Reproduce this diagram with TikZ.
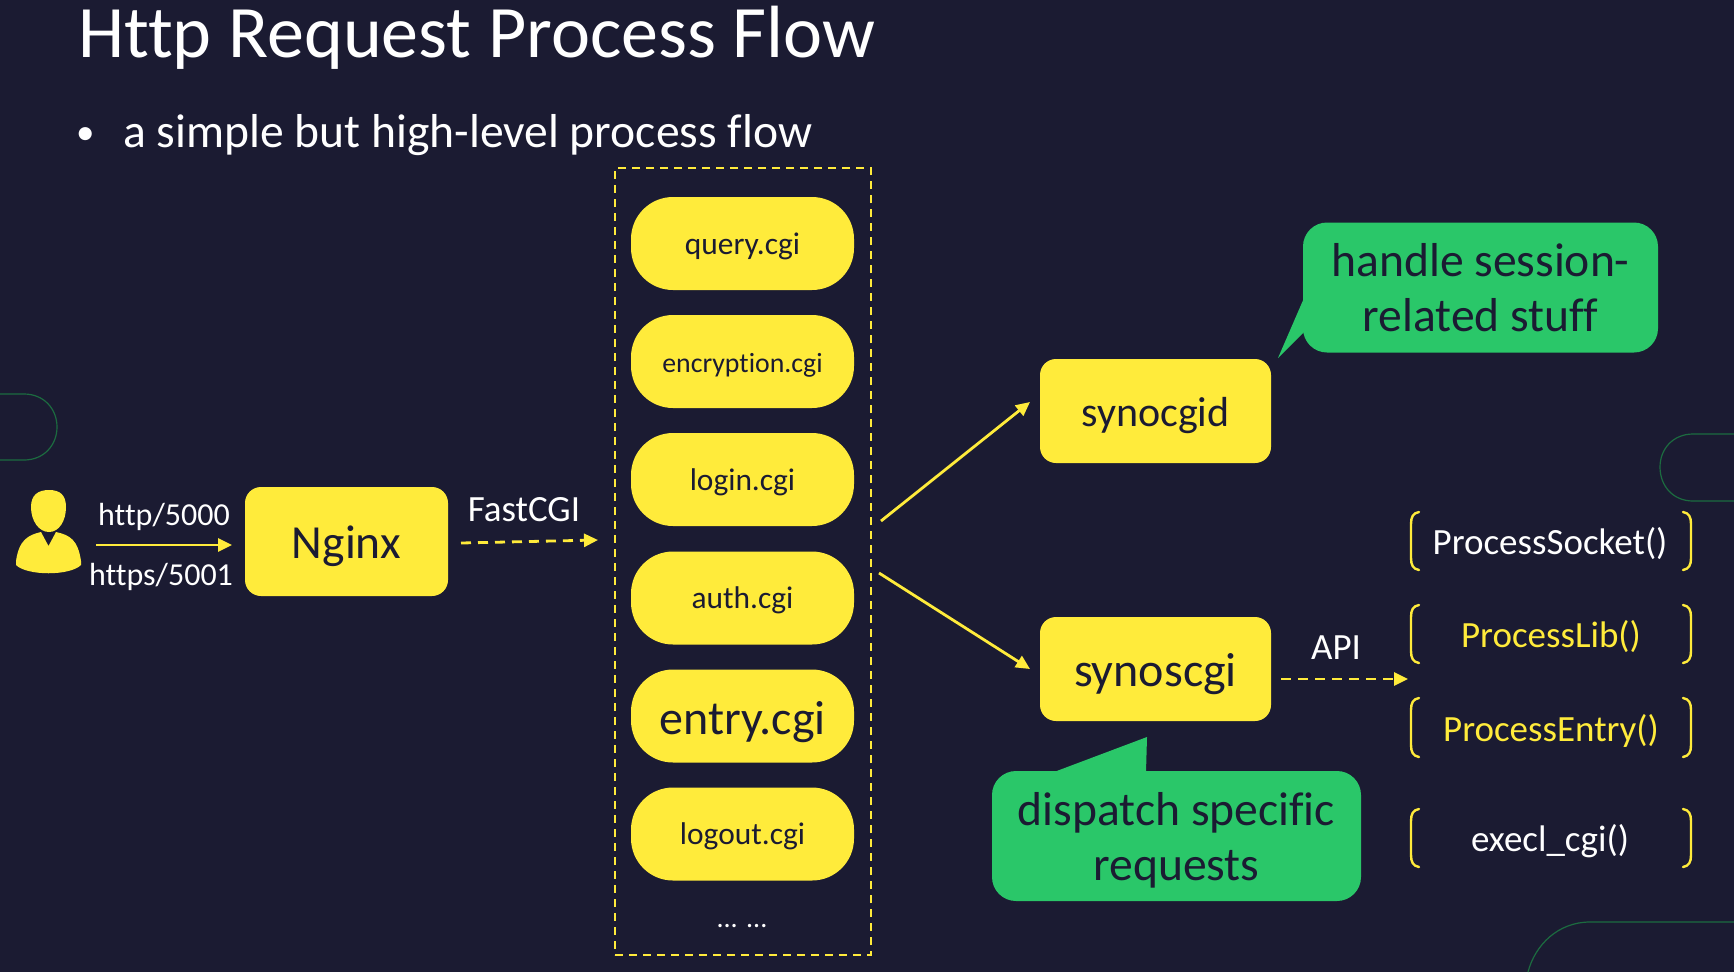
\documentclass[tikz,border=0pt]{standalone}
\usepackage{fontspec}
\setmainfont{Carlito}[Ligatures=NoCommon]
\usetikzlibrary{arrows.meta}

\definecolor{slidebg}{HTML}{1B1B32}
\definecolor{slideyellow}{HTML}{FFEB3B}
\definecolor{slidegreen}{HTML}{2AC769}
\definecolor{arcgreen}{HTML}{1C6B40}

\tikzset{
  pillbox/.style={fill=slideyellow, text=slidebg, rounded corners=42pt, minimum width=223pt, minimum height=93pt, inner sep=0pt, font=\fontsize{31.4}{38}\selectfont, text height=25pt, text depth=4pt},
  yellowbox/.style={fill=slideyellow, text=slidebg, rounded corners=16pt, inner sep=0pt, font=\fontsize{42}{50}\selectfont, text height=30pt, text depth=0pt},
  notebox/.style={fill=slidegreen, text=slidebg, rounded corners=24pt, inner sep=0pt, align=center, font=\fontsize{47.6}{55}\selectfont},
  label/.style={text=white, inner sep=0pt, font=\fontsize{32}{38}\selectfont},
  funcname/.style={inner sep=0pt, font=\fontsize{37}{44}\selectfont},
  arcline/.style={draw=arcgreen, line width=1.2pt},
  flowline/.style={draw=slideyellow, line width=2.8pt, -{Triangle[length=14pt,width=13pt]}},
  flowdash/.style={flowline, dash pattern=on 10pt off 7pt},
  bracketline/.style={draw=slideyellow, line width=2.4pt, line cap=round}
}

\begin{document}
\begin{tikzpicture}[x=1pt, y=-1pt]

\useasboundingbox (0,0) rectangle (1734,972);
\fill [slidebg] (0,0) rectangle (1734,972);

% corner decoration
\draw [arcline] (0,394) -- (24,394) .. controls (44,394) and (57,409) .. (57,427) .. controls (57,445) and (44,460) .. (24,460) -- (0,460);
\draw [arcline] (1734,434) -- (1693,434) .. controls (1673,434) and (1660,449) .. (1660,467) .. controls (1660,486) and (1673,501) .. (1693,501) -- (1734,501);
\draw [arcline] (1528,972) .. controls (1535,945) and (1558,922) .. (1590,922) -- (1734,922);

% heading
\node (title) [anchor=base west, text=white, inner sep=0pt, font=\fontsize{74}{80}\selectfont] at (78,57) {Http Request Process Flow};
\node (bullet) [anchor=base west, text=white, inner sep=0pt, font=\fontsize{37}{44}\selectfont] at (76,144) {•};
\node (subtitle) [anchor=base west, text=white, inner sep=0pt, font=\fontsize{47.6}{54}\selectfont] at (123,147) {a simple but high-level process flow};

% user icon
\fill [slideyellow] (49,490) .. controls (60,490) and (66,495) .. (66,507) .. controls (66,521) and (59,532) .. (49,532) .. controls (39,532) and (31,521) .. (31,507) .. controls (31,495) and (38,490) .. (49,490) -- cycle;
\fill [slideyellow] (41,532) -- (48.5,546) -- (56,532) .. controls (70,535) and (78,540) .. (81,561) -- (81,565) .. controls (70,576) and (27,576) .. (16,565) -- (16,561) .. controls (19,540) and (28,535) .. (41,532) -- cycle;

\node (nginx) [yellowbox, minimum width=203pt, minimum height=109pt, font=\fontsize{47.5}{54}\selectfont, text height=33pt] at (346.5,541.5) {Nginx};

\node (http) [label] at (164,517) {http/5000};
\node (https) [label] at (161,577) {https/5001};
\node (fastcgi) [label, font=\fontsize{37}{44}\selectfont] at (524,510) {FastCGI};
\node (api) [label, font=\fontsize{37}{44}\selectfont] at (1336,648) {API};

% cgi column
\node (cgicol) [draw=slideyellow, line width=2pt, dash pattern=on 8pt off 6pt, minimum width=256pt, minimum height=787pt, inner sep=0pt] at (743,561.5) {};
\node (query) [pillbox] at (742.5,243.5) {query.cgi};
\node (encryption) [pillbox, font=\fontsize{27.8}{34}\selectfont] at (742.5,361.5) {encryption.cgi};
\node (login) [pillbox] at (742.5,479.5) {login.cgi};
\node (auth) [pillbox] at (742.5,598) {auth.cgi};
\node (entry) [pillbox, font=\fontsize{48}{54}\selectfont, text height=36pt, text depth=0pt] at (742.5,716) {entry.cgi};
\node (logout) [pillbox] at (742.5,834) {logout.cgi};
\node (dots) [text=white, inner sep=0pt, font=\fontsize{28}{34}\selectfont] at (742,926) {... ...};

\node (synocgid) [yellowbox, minimum width=231pt, minimum height=104pt] at (1155.5,411) {synocgid};
\node (synoscgi) [yellowbox, minimum width=231pt, minimum height=104pt, font=\fontsize{48}{54}\selectfont, text height=34pt] at (1155.5,669) {synoscgi};

% notes
\coordinate (tipa) at (1278,358);
\coordinate (tipb) at (1147,737);
\fill [slidegreen] (tipa) -- (1304,298) -- (1304,332) -- cycle;
\fill [slidegreen] (tipb) -- (1054,772) -- (1146,772) -- cycle;
\node (notea) [notebox, minimum width=355pt, minimum height=130pt] at (1480.5,287.5) {handle session-\\related stuff};
\node (noteb) [notebox, minimum width=369pt, minimum height=130pt] at (1176.5,836) {\rule{0pt}{42pt}dispatch specific\\requests};

% functions
\foreach \ytop/\ybot in {512/570, 605/663, 698/757, 809/867}
{
\draw [bracketline] (1419,\ytop) .. controls (1413,\ytop+1) and (1411,\ytop+5) .. (1411,\ytop+12) -- (1411,\ybot-12) .. controls (1411,\ybot-5) and (1413,\ybot-1) .. (1419,\ybot);
\draw [bracketline] (1683,\ytop) .. controls (1689,\ytop+1) and (1691,\ytop+5) .. (1691,\ytop+12) -- (1691,\ybot-12) .. controls (1691,\ybot-5) and (1689,\ybot-1) .. (1683,\ybot);
}
\node (socket) [funcname, text=white] at (1550,544) {ProcessSocket()};
\node (lib) [funcname, text=slideyellow] at (1551,637) {ProcessLib()};
\node (procentry) [funcname, text=slideyellow] at (1551,731) {ProcessEntry()};
\node (execl) [funcname, text=white] at (1550,841) {execl\_cgi()};

% connectors
\coordinate (usera) at (96,545);
\coordinate (ngxa) at (232,545);
\coordinate (ngxb) at (461,543);
\coordinate (cgia) at (598,540);
\coordinate (cgib) at (881,521);
\coordinate (cgic) at (879,573);
\coordinate (syna) at (1030,402);
\coordinate (synb) at (1030,669);
\coordinate (apia) at (1281,679);
\coordinate (apib) at (1408,679);

\draw [flowline] (usera) -- (ngxa);
\draw [flowdash] (ngxb) -- (cgia);
\draw [flowline] (cgib) -- (syna);
\draw [flowline] (cgic) -- (synb);
\draw [flowdash] (apia) -- (apib);

\end{tikzpicture}
\end{document}
